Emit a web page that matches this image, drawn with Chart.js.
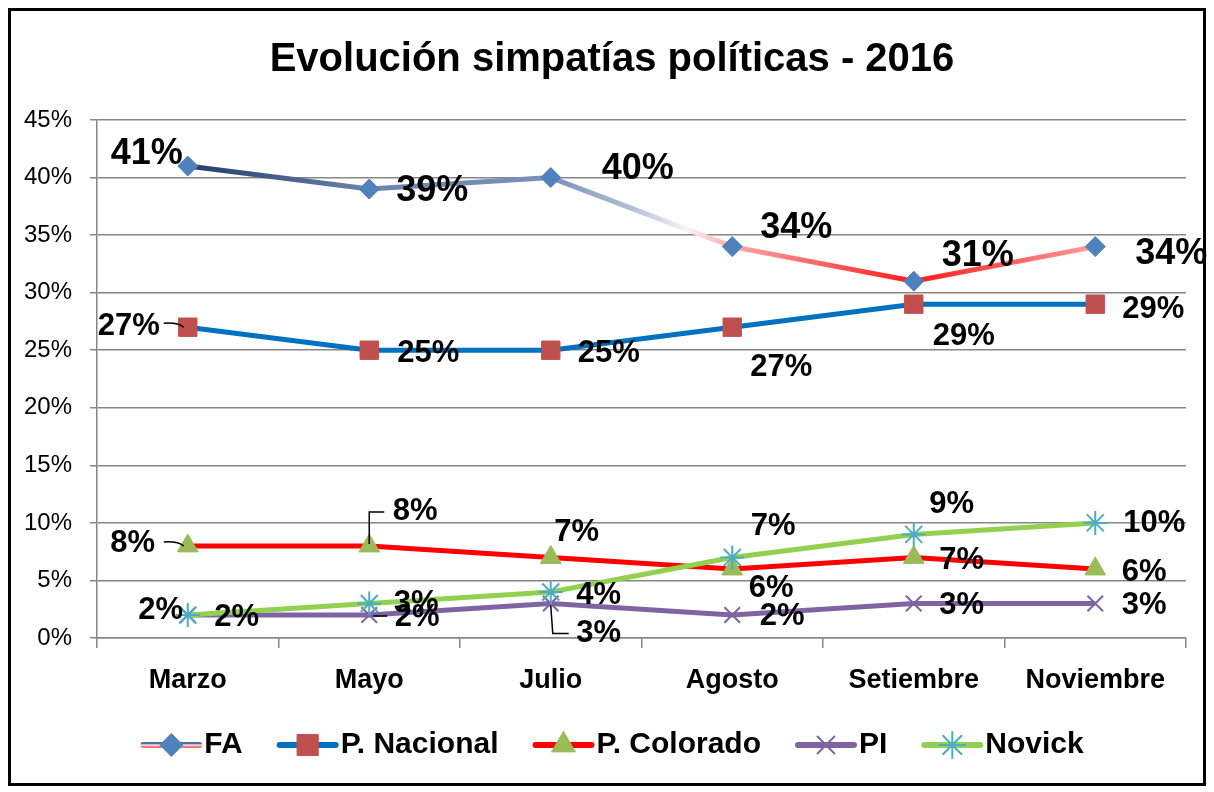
<!DOCTYPE html>
<html>
<head>
<meta charset="utf-8">
<script src="https://cdn.jsdelivr.net/npm/chart.js@4.4.0/dist/chart.umd.min.js"></script>
<style>
  html, body { margin: 0; padding: 0; background: #fff; }
</style>
</head>
<body>
<canvas id="myChart" width="1214" height="792"></canvas>
<script>
var months = ['Marzo', 'Mayo', 'Julio', 'Agosto', 'Setiembre', 'Noviembre']
var faValues = [41, 39, 40, 34, 31, 34]
var nacionalValues = [27, 25, 25, 27, 29, 29]
var coloradoValues = [8, 8, 7, 6, 7, 6]
var piValues = [2, 2, 3, 2, 3, 3]
var novickValues = [2, 3, 4, 7, 9, 10]
var yMin = 0
var yMax = 45
var yStep = 5

var FONT = "'Liberation Sans', Arial, sans-serif"
Chart.defaults.font.family = FONT
Chart.defaults.color = '#000'

// label offsets (px) from each point, per dataset
var labelOffsets = [
  [[-41, -12], [63, 2], [87, -8], [64, -19], [64, -25], [76, 7]],
  [[-59, -1], [59, 3], [58, 3], [49, 40], [50, 32], [58, 5]],
  [[-55, -2], [46, -34], [26, -25], [39, 20], [48, 3], [49, 4]],
  [[49, 2], [48, 2], [48, 30], [50, 1], [48, 2], [49, 2]],
  [[-27, -5], [47, 0], [48, 3], [41, -31], [38, -30], [59, 1]]
]
var labelSizes = [36, 31, 31, 31, 31]
// small connector lines drawn by Excel for moved labels
var leaders = [
  { ds: 1, i: 0, type: 'left' },
  { ds: 2, i: 0, type: 'left' },
  { ds: 2, i: 1, type: 'up' },
  { ds: 3, i: 1, type: 'right' },
  { ds: 3, i: 2, type: 'down' }
]
// FA line colour along the categories (index -> colour)
var faStops = [[0, '#203C6A'], [1, '#6C85AC'], [2, '#7A92B8'], [2.45, '#B3C0D6'], [2.75, '#F6F4F6'], [3, '#FFA6A6'], [4, '#FF1A1A'], [5, '#FF9E9E']]

function faGradient(chart) {
  var x = chart.scales.x
  var g = chart.ctx.createLinearGradient(x.left, 0, x.right, 0)
  faStops.forEach(s => {
    var f = (x.getPixelForValue(s[0]) - x.left) / (x.right - x.left)
    g.addColorStop(Math.min(1, Math.max(0, f)), s[1])
  })
  return g
}

var framePlugin = {
  id: 'frame',
  beforeDraw(chart) {
    var ctx = chart.ctx
    ctx.save()
    ctx.fillStyle = '#fff'
    ctx.fillRect(0, 0, chart.width, chart.height)
    ctx.lineWidth = 3
    ctx.strokeStyle = '#000'
    ctx.strokeRect(9.5, 9.5, 1195, 775)
    ctx.fillStyle = '#000'
    ctx.font = 'bold 40px ' + FONT
    ctx.textAlign = 'center'
    ctx.textBaseline = 'middle'
    ctx.fillText('Evolución simpatías políticas - 2016', 612, 60)
    ctx.restore()
  }
}

var labelPlugin = {
  id: 'pointLabels',
  afterDatasetsDraw(chart) {
    var ctx = chart.ctx
    ctx.save()
    ctx.fillStyle = '#000'
    ctx.strokeStyle = '#000'
    ctx.lineWidth = 1.5
    ctx.textAlign = 'center'
    ctx.textBaseline = 'middle'
    chart.data.datasets.forEach((ds, d) => {
      var meta = chart.getDatasetMeta(d)
      ctx.font = 'bold ' + labelSizes[d] + 'px ' + FONT
      meta.data.forEach((pt, i) => {
        var off = labelOffsets[d][i]
        ctx.fillText(ds.data[i] + '%', pt.x + off[0], pt.y + off[1])
      })
    })
    leaders.forEach(l => {
      var pt = chart.getDatasetMeta(l.ds).data[l.i]
      var off = labelOffsets[l.ds][l.i]
      var ly = pt.y + off[1]
      ctx.beginPath()
      if (l.type == 'left') {
        ctx.moveTo(pt.x - 24, pt.y - 4)
        ctx.quadraticCurveTo(pt.x - 10, pt.y - 5, pt.x - 4, pt.y)
      } else if (l.type == 'up') {
        ctx.moveTo(pt.x, pt.y - 2)
        ctx.lineTo(pt.x, ly)
        ctx.lineTo(pt.x + 15, ly)
      } else if (l.type == 'down') {
        ctx.moveTo(pt.x, pt.y + 2)
        ctx.lineTo(pt.x + 2, ly)
        ctx.lineTo(pt.x + 18, ly)
      } else {
        ctx.moveTo(pt.x + 4, pt.y + 1)
        ctx.lineTo(pt.x + 18, pt.y + 1)
      }
      ctx.stroke()
    })
    ctx.restore()
  }
}

var legendPlugin = {
  id: 'bottomLegend',
  afterDraw(chart) {
    var ctx = chart.ctx
    var y = 745
    var sample = 62
    var gap = 34
    ctx.save()
    ctx.font = 'bold 30px ' + FONT
    ctx.textBaseline = 'middle'
    ctx.textAlign = 'left'
    var items = chart.data.datasets.map(ds => ({ ds: ds, w: ctx.measureText(ds.label).width }))
    var total = items.reduce((s, it) => s + sample + 2 + it.w, 0) + gap * (items.length - 1)
    var x = 612 - total / 2
    items.forEach((it, idx) => {
      var ds = it.ds
      // line sample
      if (idx == 0) {
        var g = ctx.createLinearGradient(0, y - 4, 0, y + 4)
        g.addColorStop(0, '#4F6FA0')
        g.addColorStop(0.35, '#4F6FA0')
        g.addColorStop(0.5, '#FFFFFF')
        g.addColorStop(0.7, '#FF7070')
        g.addColorStop(1, '#FF7070')
        ctx.strokeStyle = g
      } else {
        ctx.strokeStyle = ds.borderColor
      }
      ctx.lineWidth = 6
      ctx.lineCap = 'round'
      ctx.beginPath()
      ctx.moveTo(x + 3, y)
      ctx.lineTo(x + sample - 3, y)
      ctx.stroke()
      ctx.lineCap = 'butt'
      ctx.fillStyle = ds.pointBackgroundColor
      ctx.strokeStyle = ds.pointBorderColor
      ctx.lineWidth = ds.pointBorderWidth
      Chart.helpers.drawPoint(ctx, {
        pointStyle: ds.pointStyle,
        radius: ds.pointRadius * 1.15,
        borderWidth: ds.pointBorderWidth,
        rotation: 0
      }, x + sample / 2, y)
      ctx.fillStyle = '#000'
      ctx.fillText(ds.label, x + sample + 2, y)
      x += sample + 2 + it.w + gap
    })
    ctx.restore()
  }
}

function lineSet(label, data, color, style, radius, bg, border, bw, order) {
  return {
    label: label,
    data: data,
    borderColor: color,
    borderWidth: 5,
    tension: 0,
    fill: false,
    pointStyle: style,
    pointRadius: radius,
    pointHoverRadius: radius,
    pointBackgroundColor: bg,
    pointBorderColor: border,
    pointBorderWidth: bw,
    order: order
  }
}

var datasets = [
  lineSet('FA', faValues, '#4F6FA0', 'rectRot', 10, '#4F81BD', '#4F81BD', 1, 5),
  lineSet('P. Nacional', nacionalValues, '#0070C0', 'rect', 13, '#C0504D', '#C0504D', 1, 4),
  lineSet('P. Colorado', coloradoValues, '#FF0000', 'triangle', 12, '#9BBB59', '#9BBB59', 1, 3),
  lineSet('PI', piValues, '#8064A2', 'crossRot', 11, '#8064A2', '#8064A2', 2, 2),
  lineSet('Novick', novickValues, '#92D050', 'star', 12, '#4BACC6', '#4BACC6', 2, 1)
]
datasets[0].borderColor = function (c) {
  var chart = c.chart
  if (!chart.chartArea) return '#4F6FA0'
  return faGradient(chart)
}

var ctx = document.getElementById('myChart').getContext('2d')
var myChart = new Chart(ctx, {
  type: 'line',
  data: { labels: months, datasets: datasets },
  options: {
    responsive: false,
    animation: false,
    events: [],
    layout: { padding: { left: 0, right: 28, top: 120, bottom: 92 } },
    plugins: { legend: { display: false }, tooltip: { enabled: false }, title: { display: false } },
    scales: {
      x: {
        offset: true,
        afterFit(scale) { scale.height = 62 },
        grid: { offset: true, drawOnChartArea: false, drawTicks: true, tickLength: 10, color: '#868686', lineWidth: 1.5 },
        border: { display: true, color: '#868686', width: 1.5 },
        ticks: { padding: 16, maxRotation: 0, font: { size: 27, weight: 'bold' }, color: '#000' }
      },
      y: {
        min: yMin,
        max: yMax,
        afterFit(scale) { scale.width = 97 },
        grid: { color: '#868686', lineWidth: 1.5, drawTicks: true, tickLength: 7 },
        border: { display: true, color: '#868686', width: 1.5 },
        ticks: { stepSize: yStep, padding: 18, font: { size: 24 }, color: '#000', callback: v => v + '%' }
      }
    }
  },
  plugins: [framePlugin, labelPlugin, legendPlugin]
})
</script>
</body>
</html>
